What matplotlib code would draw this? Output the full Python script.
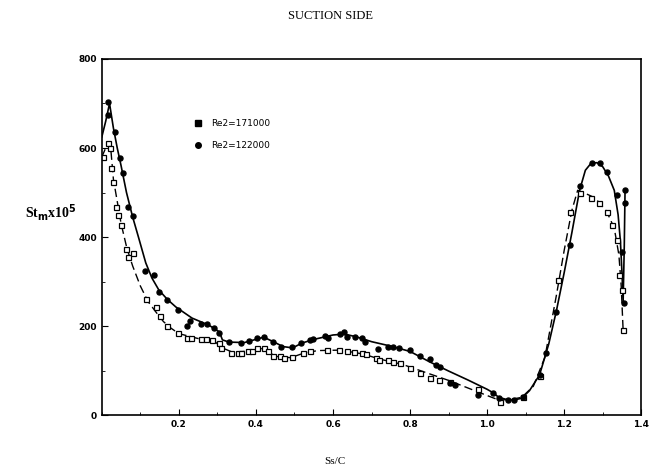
import matplotlib
matplotlib.use("Agg")
import matplotlib.pyplot as plt
from matplotlib.lines import Line2D
from matplotlib.ticker import MultipleLocator

# Re2 = 171000 (squares, dashed curve)
x1 = [0.003, 0.017, 0.022, 0.025, 0.03, 0.038, 0.043, 0.051, 0.064, 0.069, 0.082, 0.114, 0.14, 0.152,
      0.169, 0.197, 0.22, 0.231, 0.257, 0.27, 0.286, 0.305, 0.31, 0.336, 0.354, 0.362, 0.38, 0.39,
      0.404, 0.42, 0.43, 0.443, 0.463, 0.474, 0.493, 0.521, 0.54, 0.584, 0.616, 0.636, 0.655, 0.675,
      0.686, 0.712, 0.72, 0.744, 0.757, 0.775, 0.799, 0.827, 0.853, 0.874, 0.903, 0.976, 1.034,
      1.094, 1.136, 1.183, 1.215, 1.24, 1.27, 1.29, 1.31, 1.325, 1.337, 1.342, 1.35, 1.353]
y1 = [580, 611, 600, 555, 524, 467, 449, 427, 373, 355, 364, 261, 243, 222,
      200, 184, 174, 174, 171, 171, 169, 162, 151, 140, 140, 140, 144, 144,
      151, 151, 144, 133, 133, 128, 130, 140, 144, 146, 146, 144, 142, 140,
      137, 128, 124, 124, 119, 117, 106, 94, 83, 79, 74, 58, 29,
      40, 88, 303, 456, 499, 488, 476, 456, 427, 393, 315, 281, 191]

# fitted curve for Re2 = 171000
cx1 = [0.0, 0.01, 0.018, 0.024, 0.03, 0.04, 0.05, 0.065, 0.08, 0.10, 0.12, 0.14, 0.16, 0.18, 0.20,
       0.25, 0.29, 0.31, 0.34, 0.38, 0.42, 0.45, 0.49, 0.52, 0.56, 0.62, 0.68, 0.72, 0.78, 0.853,
       0.9, 0.95, 1.0, 1.03, 1.06, 1.09, 1.12, 1.15, 1.18, 1.20, 1.22, 1.235, 1.25, 1.28, 1.31,
       1.33, 1.342, 1.348, 1.353]
cy1 = [580, 600, 612, 590, 530, 480, 430, 375, 335, 290, 255, 232, 210, 195, 183,
       172, 168, 152, 141, 144, 150, 132, 129, 138, 145, 146, 137, 126, 114, 92,
       78, 61, 44, 34, 35, 40, 65, 130, 270, 370, 460, 505, 500, 488, 458,
       420, 360, 290, 191]

# Re2 = 122000 (filled markers, solid curve)
x2 = [0.017, 0.017, 0.035, 0.048, 0.056, 0.069, 0.082, 0.113, 0.135, 0.148, 0.17, 0.197, 0.22, 0.23,
      0.257, 0.273, 0.29, 0.305, 0.33, 0.362, 0.383, 0.404, 0.42, 0.443, 0.466, 0.493, 0.518, 0.54,
      0.548, 0.579, 0.587, 0.618, 0.628, 0.636, 0.657, 0.675, 0.683, 0.718, 0.744, 0.757, 0.77, 0.80,
      0.827, 0.851, 0.867, 0.877, 0.903, 0.916, 0.976, 1.016, 1.03, 1.054, 1.07, 1.094, 1.136, 1.154,
      1.18, 1.215, 1.24, 1.272, 1.293, 1.31, 1.337, 1.35, 1.355, 1.358, 1.358]
y2 = [703, 674, 636, 577, 544, 467, 447, 324, 315, 276, 258, 236, 200, 211,
      204, 204, 195, 185, 164, 162, 166, 173, 176, 164, 153, 153, 162, 169,
      171, 178, 173, 182, 187, 175, 175, 173, 164, 148, 153, 153, 151, 146,
      133, 126, 112, 108, 72, 67, 45, 49, 38, 34, 34, 40, 90, 139,
      231, 382, 515, 566, 566, 546, 494, 366, 252, 476, 505]

# fitted curve for Re2 = 122000
cx2 = [0.0, 0.01, 0.02, 0.03, 0.04, 0.05, 0.064, 0.08, 0.095, 0.114, 0.13, 0.148, 0.17, 0.192,
       0.234, 0.278, 0.305, 0.313, 0.33, 0.37, 0.42, 0.445, 0.47, 0.495, 0.52, 0.55, 0.60, 0.63,
       0.66, 0.70, 0.75, 0.80, 0.85, 0.90, 0.95, 1.0, 1.016, 1.03, 1.055, 1.07, 1.09, 1.11, 1.136,
       1.16, 1.18, 1.2, 1.22, 1.24, 1.255, 1.27, 1.285, 1.30, 1.315, 1.33, 1.34, 1.346, 1.35,
       1.353, 1.356, 1.358]
cy2 = [625, 660, 700, 645, 600, 560, 500, 445, 400, 342, 308, 281, 260, 243,
       218, 202, 187, 169, 164, 163, 175, 165, 154, 151, 162, 170, 180, 182,
       176, 165, 155, 143, 120, 99, 79, 58, 50, 40, 34, 34, 38, 55, 90,
       160, 235, 320, 410, 505, 550, 566, 567, 558, 537, 505, 450, 390, 320,
       255, 380, 505]

labels = ["Re2=171000", "Re2=122000"]
xticks = [0.2, 0.4, 0.6, 0.8, 1.0, 1.2, 1.4]
yticks = [0, 200, 400, 600, 800]

fig = plt.figure(figsize=(6.57, 4.68), dpi=100)
ax = fig.add_axes([0.155, 0.113, 0.821, 0.761])

ax.plot(cx1, cy1, color="black", lw=1.0, ls=(0, (6, 3)))
ax.plot(cx2, cy2, color="black", lw=1.2)
ax.plot(x1, y1, ls="none", marker="s", ms=3.6, mfc="white", mec="black", mew=0.9)
ax.plot(x2, y2, ls="none", marker="o", ms=3.6, mfc="black", mec="black")

ax.set_xlim(0, 1.4)
ax.set_ylim(0, 800)
ax.set_xticks(xticks)
ax.set_xticklabels([f"{v:.1f}" for v in xticks])
ax.set_yticks(yticks)
ax.xaxis.set_minor_locator(MultipleLocator(0.1))
ax.yaxis.set_minor_locator(MultipleLocator(100))
ax.tick_params(which="both", direction="in", top=False, right=False)
ax.tick_params(which="major", length=4, labelsize=6.5)
ax.tick_params(which="minor", length=2)
for lab in ax.get_yticklabels() + ax.get_xticklabels():
    lab.set_fontweight("bold")
for s in ax.spines.values():
    s.set_linewidth(1.2)

handles = [Line2D([], [], ls="none", marker="s", ms=4, color="black"),
           Line2D([], [], ls="none", marker="o", ms=4, color="black")]
ax.legend(handles, labels, loc="upper left", bbox_to_anchor=(0.155, 0.855), frameon=False,
          fontsize=6.5, handlelength=1.0, handletextpad=0.9, labelspacing=1.5)

fig.text(0.503, 0.965, "SUCTION SIDE", ha="center", va="center", family="Liberation Serif", fontsize=9)
fig.text(0.51, 0.013, "Ss/C", ha="center", va="center", family="Liberation Serif", fontsize=8)
fig.text(0.078, 0.545, r"St$_\mathbf{m}$x10$^\mathbf{5}$", ha="center", va="center",
         family="Liberation Serif", fontsize=10, fontweight="bold")

fig.savefig("out.png", dpi=100)
